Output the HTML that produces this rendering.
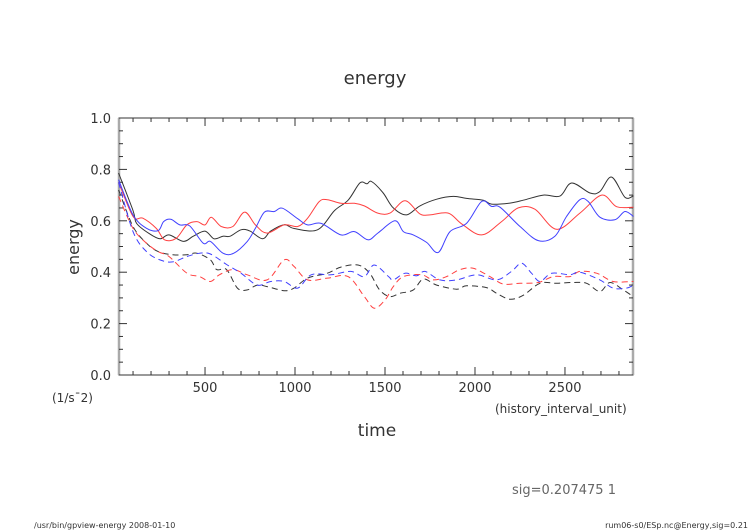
<!DOCTYPE html>
<html><head><meta charset="utf-8"><style>
html,body{margin:0;padding:0;background:#fff;}
svg{display:block;font-family:"DejaVu Sans","Liberation Sans",sans-serif;}
</style></head><body>
<svg id="chart" width="752" height="532" viewBox="0 0 752 532">
<rect width="752" height="532" fill="#fff"/>
<text x="375" y="84" text-anchor="middle" font-size="18" fill="#333">energy</text>
<g id="axes"></g>
<g id="series" fill="none" stroke-width="1"></g>
<text transform="translate(79,247) rotate(-90)" text-anchor="middle" font-size="16" fill="#333">energy</text>
<text x="52" y="402" font-size="12" fill="#333">(1/s¯2)</text>
<text x="377" y="436" text-anchor="middle" font-size="17" fill="#333">time</text>
<text x="495" y="413" font-size="12" fill="#333">(history_interval_unit)</text>
<text x="512" y="494" font-size="13" fill="#666">sig=0.207475 1</text>
<text x="34" y="528" font-size="8" fill="#333">/usr/bin/gpview-energy  2008-01-10</text>
<text x="748" y="528" text-anchor="end" font-size="8" fill="#333">rum06-s0/ESp.nc@Energy,sig=0.21</text>
</svg>
<script>
const xTicks=[500,1000,1500,2000,2500];
const yTicks=[0,0.2,0.4,0.6,0.8,1.0];
const yTickLabels=["0.0","0.2","0.4","0.6","0.8","1.0"];
const blackT=[20,100,120,190,250,300,380,435,500,550,600,640,700,750,820,865,940,995,1125,1220,1295,1360,1400,1425,1490,1546,1620,1694,1787,1880,1953,2046,2092,2194,2268,2380,2472,2537,2639,2694,2759,2833,2880];
const blackV=[0.786,0.64,0.59,0.55,0.53,0.545,0.52,0.54,0.56,0.53,0.54,0.54,0.565,0.56,0.53,0.56,0.585,0.57,0.565,0.64,0.68,0.747,0.744,0.753,0.708,0.65,0.623,0.658,0.684,0.695,0.687,0.68,0.665,0.669,0.68,0.70,0.696,0.747,0.708,0.714,0.77,0.692,0.697];
const redT=[20,100,155,230,275,340,400,455,500,535,590,655,720,780,845,940,1015,1070,1135,1180,1255,1330,1385,1460,1528,1611,1694,1750,1852,1926,2037,2148,2240,2333,2453,2583,2704,2787,2880];
const redV=[0.75,0.617,0.61,0.57,0.526,0.532,0.585,0.597,0.584,0.614,0.578,0.578,0.634,0.584,0.552,0.584,0.578,0.61,0.675,0.682,0.668,0.668,0.658,0.63,0.63,0.678,0.627,0.623,0.63,0.588,0.545,0.597,0.65,0.645,0.567,0.63,0.70,0.655,0.653];
const blueT=[20,100,175,240,270,310,360,415,490,530,600,660,735,780,830,885,930,1015,1070,1145,1255,1330,1405,1460,1555,1602,1657,1731,1796,1861,1953,2037,2092,2139,2250,2352,2444,2509,2583,2629,2694,2777,2833,2880];
const blueV=[0.76,0.623,0.571,0.562,0.597,0.606,0.584,0.58,0.513,0.52,0.474,0.474,0.52,0.571,0.634,0.636,0.649,0.608,0.584,0.59,0.545,0.558,0.526,0.552,0.60,0.558,0.545,0.516,0.477,0.558,0.59,0.675,0.656,0.653,0.578,0.523,0.54,0.617,0.682,0.675,0.614,0.604,0.636,0.617];
const blackDT=[20,100,175,240,320,400,455,530,565,620,680,735,790,845,940,995,1070,1180,1255,1350,1415,1470,1528,1583,1657,1713,1787,1898,1953,2064,2120,2194,2268,2361,2453,2546,2620,2694,2750,2824,2880];
const blackDV=[0.72,0.578,0.513,0.48,0.468,0.468,0.474,0.448,0.41,0.41,0.338,0.331,0.35,0.344,0.328,0.338,0.377,0.396,0.42,0.428,0.396,0.331,0.305,0.318,0.331,0.373,0.35,0.334,0.347,0.34,0.318,0.295,0.31,0.357,0.357,0.36,0.357,0.325,0.36,0.331,0.305];
const redDT=[20,100,175,240,300,400,470,530,580,655,735,845,940,995,1070,1180,1295,1385,1440,1500,1546,1602,1703,1768,1842,1916,1990,2083,2157,2250,2352,2435,2527,2583,2676,2768,2880];
const redDV=[0.695,0.571,0.513,0.48,0.461,0.396,0.383,0.364,0.39,0.41,0.39,0.37,0.448,0.422,0.37,0.377,0.383,0.305,0.26,0.292,0.344,0.383,0.39,0.37,0.383,0.41,0.415,0.383,0.354,0.357,0.36,0.383,0.383,0.403,0.396,0.364,0.364];
const blueDT=[20,100,175,250,320,400,470,530,620,700,790,865,940,1015,1090,1200,1310,1385,1440,1520,1546,1611,1676,1722,1805,1898,2009,2120,2203,2259,2314,2361,2426,2527,2583,2694,2768,2842,2880];
const blueDV=[0.75,0.558,0.48,0.448,0.44,0.461,0.474,0.471,0.43,0.396,0.35,0.364,0.364,0.338,0.39,0.39,0.403,0.383,0.428,0.383,0.37,0.396,0.386,0.403,0.37,0.37,0.39,0.37,0.403,0.435,0.396,0.364,0.396,0.39,0.40,0.37,0.338,0.338,0.35];

const L=119,R=633,T=118,B=375;
const xMin=22,xMax=2878;
const X=t=>L+(t-xMin)/(xMax-xMin)*(R-L);
const Y=v=>B-v*(B-T);
const NS="http://www.w3.org/2000/svg";
function mk(tag,attrs,parent){const e=document.createElementNS(NS,tag);for(const k in attrs)e.setAttribute(k,attrs[k]);parent.appendChild(e);return e;}
const axes=document.getElementById('axes');
const frame=mk('rect',{x:L,y:T,width:R-L,height:B-T,fill:'none',stroke:'#333','stroke-width':1},axes);


const lb=mk('line',{x1:L,y1:T,x2:L,y2:B,stroke:'#aaa','stroke-width':2.5},axes);


const rb=mk('line',{x1:R,y1:T,x2:R,y2:B,stroke:'#aaa','stroke-width':2.5},axes);


for(let t=100;t<=xMax;t+=100){
  const major=t%500===0, len=major?8:4, x=X(t);
  mk('line',{x1:x,y1:B,x2:x,y2:B-len,stroke:'#333'},axes);
  mk('line',{x1:x,y1:T,x2:x,y2:T+len,stroke:'#333'},axes);
}
for(let i=0;i<=20;i++){
  const v=i*0.05, major=i%4===0, len=major?8:4, y=Y(v);
  mk('line',{x1:L,y1:y,x2:L+len,y2:y,stroke:'#333'},axes);
  mk('line',{x1:R,y1:y,x2:R-len,y2:y,stroke:'#333'},axes);
}
xTicks.forEach(t=>{
  const tx=mk('text',{x:X(t),y:B+17,'text-anchor':'middle','font-size':13,fill:'#333'},axes);
  tx.textContent=t;
  
  
});
yTicks.forEach((v,i)=>{
  const tx=mk('text',{x:L-8,y:Y(v)+5,'text-anchor':'end','font-size':13,fill:'#333'},axes);
  tx.textContent=yTickLabels[i];
  
  
});
const g=document.getElementById('series');
function smoothPath(pts){
  let d='M'+pts[0][0].toFixed(1)+','+pts[0][1].toFixed(1);
  for(let i=0;i<pts.length-1;i++){
    const p0=pts[Math.max(0,i-1)],p1=pts[i],p2=pts[i+1],p3=pts[Math.min(pts.length-1,i+2)];
    const c1x=p1[0]+(p2[0]-p0[0])/6,c1y=p1[1]+(p2[1]-p0[1])/6;
    const c2x=p2[0]-(p3[0]-p1[0])/6,c2y=p2[1]-(p3[1]-p1[1])/6;
    d+=' C'+c1x.toFixed(1)+','+c1y.toFixed(1)+' '+c2x.toFixed(1)+','+c2y.toFixed(1)+' '+p2[0].toFixed(1)+','+p2[1].toFixed(1);
  }
  return d;
}
function draw(ts,vs,color,dash,name){
  const pts=ts.map((t,i)=>[X(t),Y(vs[i])]);
  const p=mk('path',{d:smoothPath(pts),stroke:color,'stroke-linejoin':'round'},g);
  if(dash)p.setAttribute('stroke-dasharray','6,4');
  
  
}
draw(blackT,blackV,'#333',false,'series-black-solid');
draw(redT,redV,'#ff4040',false,'series-red-solid');
draw(blueT,blueV,'#4040ff',false,'series-blue-solid');
draw(blackDT,blackDV,'#333',true,'series-black-dashed');
draw(redDT,redDV,'#ff4040',true,'series-red-dashed');
draw(blueDT,blueDV,'#4040ff',true,'series-blue-dashed');
</script>
</body></html>
